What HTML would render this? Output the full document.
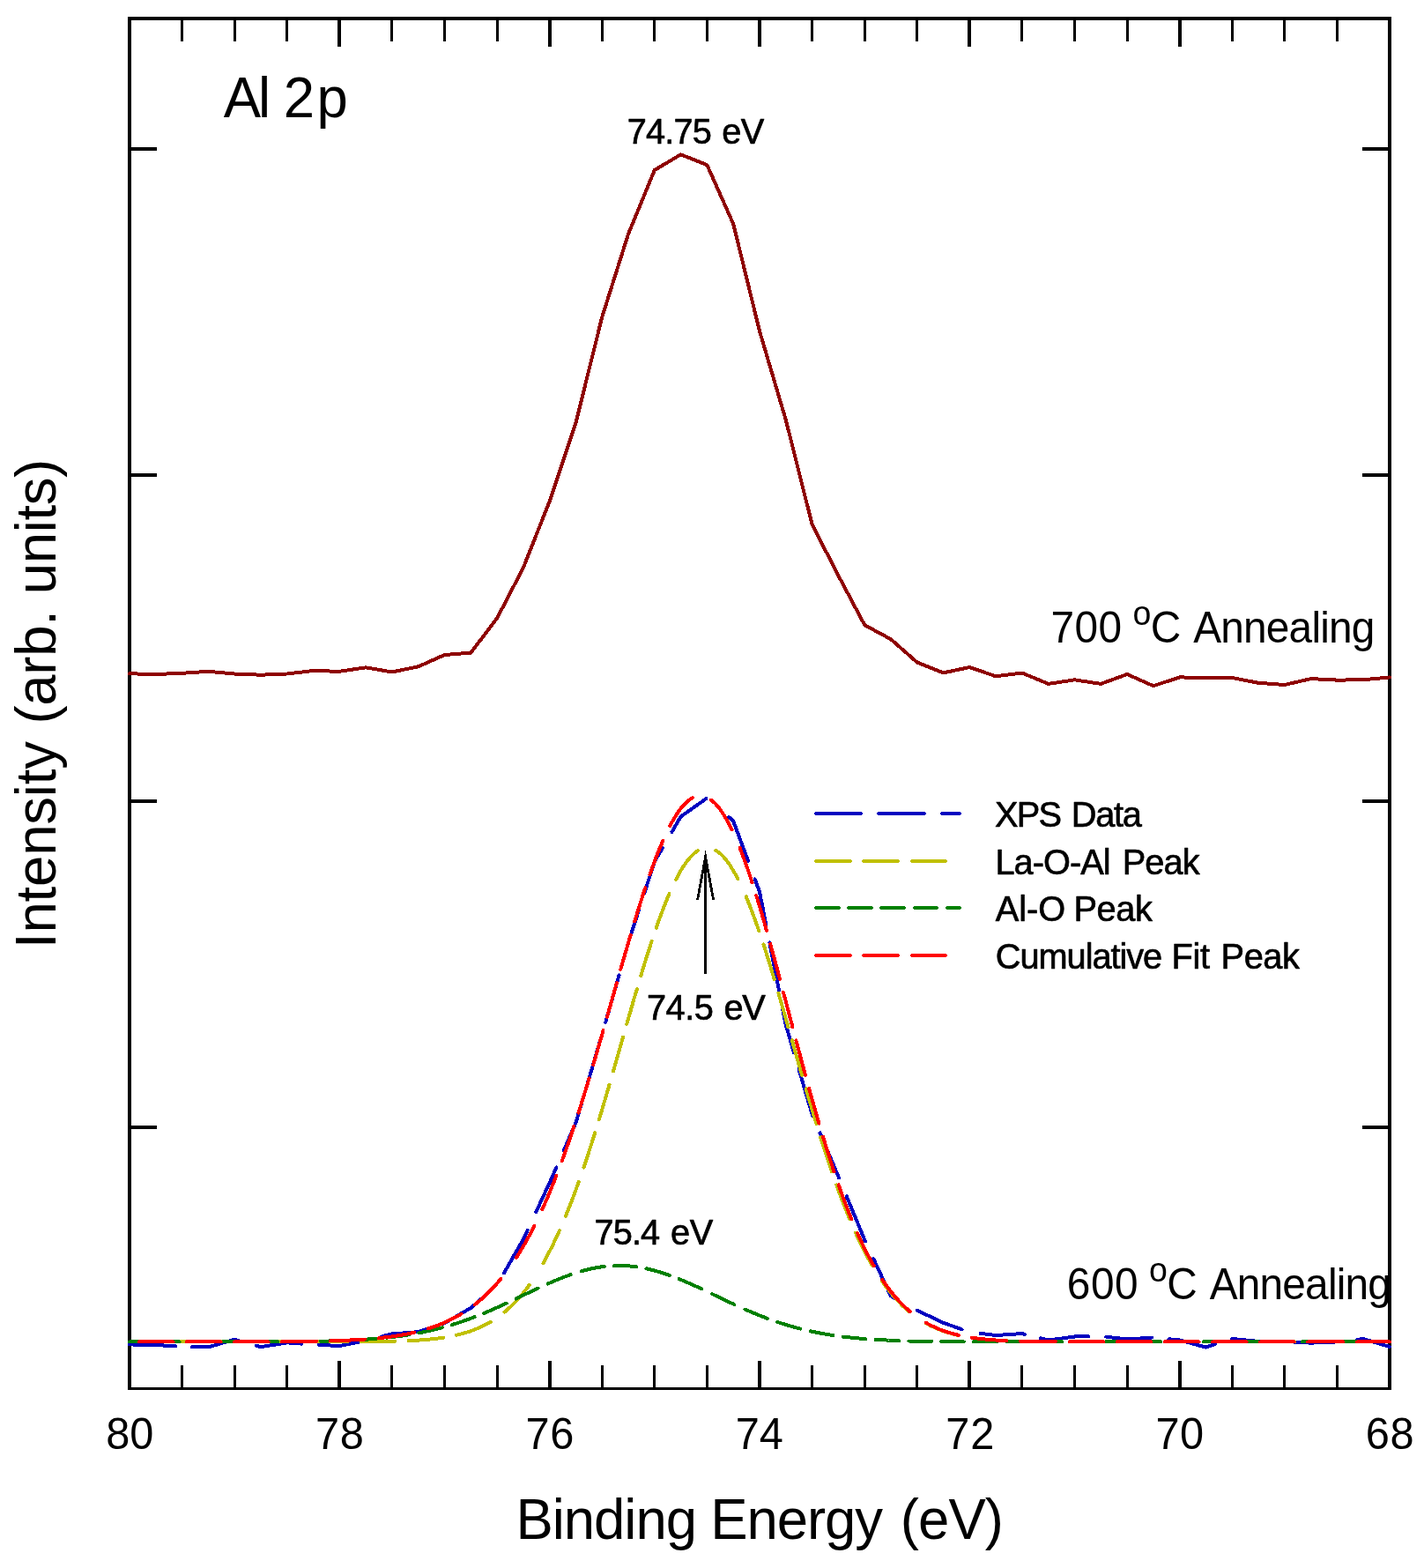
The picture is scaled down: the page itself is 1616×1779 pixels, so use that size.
<!DOCTYPE html>
<html lang="en"><head><meta charset="utf-8"><title>Al 2p XPS spectra</title>
<style>html,body{margin:0;padding:0;background:#fff;overflow:hidden}svg{display:block}text{font-family:"Liberation Sans",sans-serif;fill:#000}</style></head>
<body>
<svg width="1616" height="1779" viewBox="0 0 1616 1779">
<rect x="0" y="0" width="1616" height="1779" fill="#fff"/>
<g id="axes" fill="#000" shape-rendering="crispEdges">
<rect x="145" y="19" width="1434" height="4"/>
<rect x="145" y="1574" width="1434" height="3"/>
<rect x="145" y="19" width="4" height="1558"/>
<rect x="1575" y="19" width="4" height="1558"/>
<rect x="205" y="23" width="3" height="24"/>
<rect x="205" y="1549" width="3" height="25"/>
<rect x="265" y="23" width="3" height="24"/>
<rect x="265" y="1549" width="3" height="25"/>
<rect x="324" y="23" width="3" height="24"/>
<rect x="324" y="1549" width="3" height="25"/>
<rect x="383" y="23" width="4" height="30"/>
<rect x="383" y="1544" width="4" height="30"/>
<rect x="443" y="23" width="3" height="24"/>
<rect x="443" y="1549" width="3" height="25"/>
<rect x="503" y="23" width="3" height="24"/>
<rect x="503" y="1549" width="3" height="25"/>
<rect x="563" y="23" width="3" height="24"/>
<rect x="563" y="1549" width="3" height="25"/>
<rect x="622" y="23" width="4" height="30"/>
<rect x="622" y="1544" width="4" height="30"/>
<rect x="682" y="23" width="3" height="24"/>
<rect x="682" y="1549" width="3" height="25"/>
<rect x="741" y="23" width="3" height="24"/>
<rect x="741" y="1549" width="3" height="25"/>
<rect x="801" y="23" width="3" height="24"/>
<rect x="801" y="1549" width="3" height="25"/>
<rect x="860" y="23" width="4" height="30"/>
<rect x="860" y="1544" width="4" height="30"/>
<rect x="920" y="23" width="3" height="24"/>
<rect x="920" y="1549" width="3" height="25"/>
<rect x="980" y="23" width="3" height="24"/>
<rect x="980" y="1549" width="3" height="25"/>
<rect x="1039" y="23" width="3" height="24"/>
<rect x="1039" y="1549" width="3" height="25"/>
<rect x="1098" y="23" width="4" height="30"/>
<rect x="1098" y="1544" width="4" height="30"/>
<rect x="1158" y="23" width="3" height="24"/>
<rect x="1158" y="1549" width="3" height="25"/>
<rect x="1218" y="23" width="3" height="24"/>
<rect x="1218" y="1549" width="3" height="25"/>
<rect x="1278" y="23" width="3" height="24"/>
<rect x="1278" y="1549" width="3" height="25"/>
<rect x="1337" y="23" width="4" height="30"/>
<rect x="1337" y="1544" width="4" height="30"/>
<rect x="1397" y="23" width="3" height="24"/>
<rect x="1397" y="1549" width="3" height="25"/>
<rect x="1456" y="23" width="3" height="24"/>
<rect x="1456" y="1549" width="3" height="25"/>
<rect x="1516" y="23" width="3" height="24"/>
<rect x="1516" y="1549" width="3" height="25"/>
<rect x="149" y="167" width="29" height="4"/>
<rect x="1546" y="167" width="29" height="4"/>
<rect x="149" y="537" width="29" height="4"/>
<rect x="1546" y="537" width="29" height="4"/>
<rect x="149" y="907" width="29" height="4"/>
<rect x="1546" y="907" width="29" height="4"/>
<rect x="149" y="1277" width="29" height="4"/>
<rect x="1546" y="1277" width="29" height="4"/>
</g>
<g id="curves" fill="none" stroke-linejoin="round" stroke-linecap="round" shape-rendering="crispEdges">
<polyline id="c700" stroke="#8e0000" stroke-width="4" points="147.0,764.3 176.8,765.0 206.6,763.8 236.4,761.8 266.2,764.5 296.0,765.7 325.8,764.5 355.5,761.0 385.3,761.8 415.1,757.3 444.9,762.5 474.7,756.3 504.5,743.0 534.3,740.6 564.1,701.4 593.9,644.0 623.7,568.7 653.5,479.6 683.2,359.9 713.0,265.6 742.8,193.0 772.6,175.3 802.4,187.2 832.2,254.0 862.0,375.7 891.8,476.5 921.6,595.0 951.4,653.1 981.2,709.1 1011.0,725.3 1040.8,751.5 1070.5,763.4 1100.3,757.0 1130.1,767.3 1159.9,763.5 1189.7,775.9 1219.5,771.3 1249.3,775.9 1279.1,765.0 1308.9,778.2 1338.7,768.4 1368.5,769.0 1398.2,769.0 1428.0,774.8 1457.8,777.0 1487.6,770.1 1517.4,771.6 1547.2,771.3 1577.0,768.4"/>
<path id="cblue" stroke="#0000c0" stroke-width="4" d="M147.0 1525.4 L147.5 1525.4 L151.0 1525.5 L154.4 1525.6 L157.9 1525.6 L161.4 1525.7 L164.9 1525.8 L168.4 1525.8 L171.8 1525.9 L175.3 1526.0 L176.8 1526.0 L180.3 1526.2 L183.7 1526.4 L187.2 1526.6 L190.7 1526.8 L194.2 1527.0 L197.6 1527.2 L199.1 1527.3 M218.0 1528.0 L218.5 1528.0 L222.0 1528.1 L225.5 1528.2 L228.9 1528.3 L232.4 1528.4 L235.9 1528.5 L236.4 1528.5 L239.7 1527.5 L243.0 1526.5 L246.3 1525.6 L249.6 1524.6 L252.9 1523.6 L256.2 1522.6 L259.5 1521.7 L262.9 1520.7 L266.2 1519.7 L269.5 1520.7 L271.3 1521.2 M290.7 1526.7 L291.2 1526.8 L294.5 1527.8 L296.0 1528.2 L299.4 1527.6 L302.8 1527.1 L306.2 1526.5 L309.6 1526.0 L313.1 1525.4 L316.5 1524.9 L319.9 1524.3 L323.3 1523.8 L325.8 1523.4 L329.2 1523.6 L332.7 1523.9 L336.2 1524.1 L339.7 1524.4 L342.5 1524.6 M362.0 1525.8 L362.5 1525.9 L366.0 1526.1 L369.4 1526.2 L372.9 1526.4 L376.4 1526.6 L379.9 1526.8 L383.3 1527.0 L385.3 1527.1 L388.8 1526.4 L392.2 1525.7 L395.6 1525.0 L399.0 1524.3 L402.4 1523.6 L405.8 1522.9 L409.3 1522.2 L412.7 1521.5 L414.0 1521.2 M432.9 1516.5 L433.4 1516.3 L436.7 1515.5 L440.1 1514.6 L443.5 1513.8 L444.9 1513.4 L448.4 1513.1 L451.9 1512.9 L455.3 1512.6 L458.8 1512.4 L462.3 1512.1 L465.8 1511.9 L469.2 1511.6 L472.7 1511.3 L474.7 1511.2 L478.0 1510.1 L481.3 1509.0 L484.6 1507.9 L484.9 1507.8 M503.6 1501.5 L504.0 1501.4 L504.5 1501.2 L507.5 1499.5 L510.5 1497.7 L513.6 1496.0 L516.6 1494.2 L519.6 1492.5 L522.6 1490.7 L525.7 1489.0 L528.7 1487.2 L531.7 1485.5 L534.3 1484.0 L536.9 1481.7 L539.6 1479.4 L542.2 1477.1 L544.9 1474.8 L547.5 1472.5 L549.4 1470.9 M572.0 1444.3 L572.2 1443.9 L573.9 1440.8 L575.7 1437.8 L577.4 1434.8 L579.1 1431.8 L580.8 1428.8 L582.5 1425.8 L584.3 1422.7 L586.0 1419.7 L587.7 1416.7 L589.4 1413.7 L591.2 1410.7 L592.9 1407.6 L593.9 1405.9 L595.3 1402.8 L596.8 1399.6 L598.3 1396.5 L598.6 1395.8 M608.4 1374.9 L608.6 1374.4 L610.0 1371.3 L611.5 1368.1 L613.0 1365.0 L614.4 1361.8 L615.9 1358.7 L617.4 1355.5 L618.8 1352.4 L620.3 1349.2 L621.8 1346.1 L623.2 1342.9 L623.7 1342.0 L625.1 1338.8 L626.5 1335.6 L627.9 1332.4 L629.3 1329.2 L630.7 1326.0 L631.3 1324.5 M639.8 1305.1 L639.9 1304.9 L641.3 1301.7 L642.7 1298.5 L644.1 1295.3 L645.5 1292.1 L646.9 1288.8 L648.3 1285.6 L649.7 1282.4 L651.1 1279.2 L652.5 1276.0 L653.5 1273.7 L654.5 1270.4 L655.5 1267.0 L656.5 1263.7 L657.4 1260.3 L658.4 1257.0 L659.4 1253.6 L659.5 1253.4 M665.5 1233.1 L665.6 1233.0 L666.6 1229.7 L667.6 1226.3 L668.6 1223.0 L669.6 1219.6 L670.6 1216.3 L671.6 1212.9 L672.6 1209.6 L673.6 1206.2 L674.6 1202.8 L675.6 1199.5 L676.6 1196.1 L677.5 1192.8 L678.5 1189.4 L679.5 1186.1 L680.5 1182.7 L681.3 1180.1 M687.2 1159.7 L687.4 1159.3 L688.3 1155.9 L689.3 1152.5 L690.3 1149.2 L691.2 1145.8 L692.2 1142.5 L693.1 1139.1 L694.1 1135.8 L695.1 1132.4 L696.0 1129.1 L697.0 1125.7 L697.9 1122.3 L698.9 1119.0 L699.9 1115.6 L700.8 1112.3 L701.8 1108.9 L702.5 1106.5 M708.3 1086.1 L708.4 1085.9 L709.3 1082.6 L710.3 1079.2 L711.3 1075.8 L712.2 1072.5 L713.0 1069.6 L714.1 1066.3 L715.2 1063.0 L716.3 1059.6 L717.3 1056.3 L718.4 1053.0 L719.5 1049.6 L720.6 1046.3 L721.6 1043.0 L722.7 1039.7 L723.8 1036.3 L724.8 1033.3 M731.3 1013.1 L731.3 1013.0 L732.4 1009.7 L733.5 1006.4 L734.5 1003.1 L735.6 999.7 L736.7 996.4 L737.8 993.1 L738.8 989.8 L739.9 986.4 L741.0 983.1 L742.1 979.8 L742.8 977.4 L744.6 974.4 L746.4 971.4 L748.1 968.3 L749.9 965.3 L751.7 962.3 L751.8 962.0 M762.5 943.8 L762.8 943.3 L764.5 940.3 L766.3 937.3 L768.1 934.3 L769.8 931.2 L771.6 928.2 L772.6 926.5 L775.4 924.5 L778.3 922.5 L781.1 920.5 L783.9 918.5 L786.7 916.5 L789.5 914.5 L792.4 912.5 L795.2 910.5 L798.0 908.5 L800.8 906.4 L801.4 906.0 M827.0 927.0 L827.4 927.3 L830.0 929.6 L832.2 931.6 L833.4 934.9 L834.6 938.1 L835.8 941.4 L837.1 944.7 L838.3 947.9 L839.5 951.2 L840.7 954.4 L841.9 957.7 L843.1 961.0 L844.3 964.2 L845.5 967.5 L846.8 970.8 L848.0 974.0 L849.1 977.0 M856.6 997.4 L856.8 997.8 L858.0 1001.1 L859.2 1004.3 L860.4 1007.6 L861.7 1010.9 L862.0 1011.8 L862.7 1015.2 L863.3 1018.7 L864.0 1022.1 L864.7 1025.5 L865.4 1028.9 L866.0 1032.4 L866.7 1035.8 L867.4 1039.2 L868.1 1042.6 L868.7 1046.1 L869.4 1049.5 L869.5 1049.9 M873.4 1069.5 L873.5 1070.0 L874.1 1073.5 L874.8 1076.9 L875.5 1080.3 L876.2 1083.7 L876.8 1087.2 L877.5 1090.6 L878.2 1094.0 L878.9 1097.4 L879.5 1100.9 L880.2 1104.3 L880.9 1107.7 L881.6 1111.1 L882.2 1114.6 L882.9 1118.0 L883.6 1121.4 L883.9 1123.2 M887.8 1142.9 L887.9 1143.4 L888.6 1146.9 L889.3 1150.3 L890.0 1153.7 L890.6 1157.1 L891.3 1160.6 L891.8 1163.0 L892.8 1166.4 L893.8 1169.7 L894.8 1173.1 L895.7 1176.4 L896.7 1179.8 L897.7 1183.1 L898.7 1186.5 L899.7 1189.9 L900.7 1193.2 L900.9 1194.1 M906.5 1212.9 L906.6 1213.4 L907.6 1216.7 L908.6 1220.1 L909.6 1223.4 L910.6 1226.8 L911.6 1230.1 L912.5 1233.5 L913.5 1236.9 L914.5 1240.2 L915.5 1243.6 L916.5 1246.9 L917.5 1250.3 L918.5 1253.6 L919.5 1257.0 L920.5 1260.4 L921.4 1263.7 L921.6 1264.2 L922.3 1265.9 M930.5 1285.3 L930.7 1285.7 L932.0 1288.9 L933.4 1292.1 L934.7 1295.3 L936.1 1298.5 L937.4 1301.7 L938.8 1304.9 L940.2 1308.1 L941.5 1311.4 L942.9 1314.6 L944.2 1317.8 L945.6 1321.0 L946.9 1324.2 L948.3 1327.4 L949.6 1330.6 L951.0 1333.8 L951.4 1334.7 L952.0 1336.3 M960.7 1357.3 L960.9 1357.7 L962.3 1361.0 L963.6 1364.2 L964.9 1367.4 L966.3 1370.7 L967.6 1373.9 L968.9 1377.1 L970.3 1380.3 L971.6 1383.6 L973.0 1386.8 L974.3 1390.0 L975.6 1393.2 L977.0 1396.5 L978.3 1399.7 L979.6 1402.9 L981.0 1406.1 L981.2 1406.6 L982.0 1408.4 M991.3 1428.3 L991.5 1428.8 L993.0 1431.9 L994.5 1435.1 L996.0 1438.3 L997.4 1441.4 L998.9 1444.6 L1000.4 1447.8 L1001.9 1450.9 L1003.4 1454.1 L1004.8 1457.3 L1006.3 1460.4 L1007.8 1463.6 L1009.3 1466.8 L1010.7 1469.9 L1011.0 1470.4 L1014.0 1472.1 L1017.1 1473.7 L1018.8 1474.7 M1040.8 1486.6 L1041.2 1486.8 L1044.3 1488.3 L1047.4 1489.8 L1050.5 1491.3 L1053.6 1492.8 L1056.8 1494.3 L1059.9 1495.8 L1063.0 1497.3 L1066.1 1498.8 L1069.2 1500.3 L1070.5 1500.9 L1073.8 1502.0 L1077.1 1503.2 L1080.3 1504.3 L1083.6 1505.5 L1086.8 1506.6 L1090.1 1507.8 L1091.6 1508.3 M1112.6 1512.9 L1113.0 1512.9 L1116.5 1513.3 L1119.9 1513.8 L1123.3 1514.2 L1126.7 1514.6 L1130.1 1515.0 L1133.6 1514.8 L1137.1 1514.6 L1140.6 1514.3 L1144.0 1514.1 L1147.5 1513.9 L1151.0 1513.7 L1154.5 1513.4 L1157.9 1513.2 L1159.9 1513.1 L1162.7 1513.8 M1181.1 1518.4 L1181.5 1518.5 L1184.9 1519.3 L1188.3 1520.1 L1189.7 1520.5 L1193.1 1520.0 L1196.5 1519.6 L1200.0 1519.1 L1203.4 1518.7 L1206.8 1518.2 L1210.2 1517.7 L1213.6 1517.3 L1217.1 1516.8 L1219.5 1516.5 L1223.0 1516.4 L1226.5 1516.4 L1229.9 1516.3 L1233.4 1516.3 L1235.2 1516.2 M1255.3 1516.7 L1255.7 1516.8 L1259.2 1517.2 L1262.7 1517.6 L1266.2 1518.0 L1269.6 1518.4 L1273.1 1518.8 L1276.6 1519.2 L1279.1 1519.5 L1282.6 1519.3 L1286.0 1519.0 L1289.5 1518.8 L1293.0 1518.6 L1296.5 1518.3 L1299.9 1518.1 L1303.4 1517.9 L1306.9 1517.6 L1307.0 1517.6 M1326.3 1519.3 L1326.8 1519.3 L1330.2 1519.7 L1333.7 1520.0 L1337.2 1520.3 L1338.7 1520.5 L1342.0 1521.4 L1345.4 1522.3 L1348.8 1523.2 L1352.1 1524.2 L1355.5 1525.1 L1358.8 1526.0 L1362.2 1526.9 L1365.6 1527.8 L1368.5 1528.6 L1371.8 1527.5 L1375.1 1526.4 L1378.4 1525.4 L1378.8 1525.2 M1397.8 1519.1 L1398.2 1518.9 L1401.7 1519.3 L1405.2 1519.6 L1408.7 1520.0 L1412.2 1520.3 L1415.6 1520.7 L1419.1 1521.1 L1422.6 1521.4 L1426.1 1521.8 L1428.0 1522.0 L1431.5 1522.0 L1435.0 1522.1 L1438.5 1522.1 L1441.9 1522.1 L1445.4 1522.2 L1448.9 1522.2 L1449.6 1522.2 M1469.0 1522.8 L1469.3 1522.8 L1472.7 1522.9 L1476.2 1523.1 L1479.7 1523.3 L1483.2 1523.4 L1486.6 1523.6 L1487.6 1523.6 L1491.1 1523.5 L1494.6 1523.3 L1498.1 1523.2 L1501.5 1523.0 L1505.0 1522.9 L1508.5 1522.8 L1512.0 1522.6 L1515.4 1522.5 L1517.4 1522.4 L1520.9 1522.0 L1520.9 1522.0 M1540.2 1519.8 L1540.3 1519.8 L1543.7 1519.4 L1547.2 1519.0 L1550.5 1520.0 L1553.8 1521.0 L1557.1 1522.0 L1560.4 1523.0 L1563.8 1524.0 L1567.1 1525.0 L1570.4 1526.0 L1573.7 1527.0 L1577.0 1528.0"/>
<path id="cyel" stroke="#c0c000" stroke-width="4" d="M147.0 1522.4 L147.5 1522.4 L150.5 1522.4 L153.5 1522.4 L156.5 1522.4 L159.5 1522.4 L162.5 1522.4 L165.5 1522.4 L168.5 1522.4 L171.5 1522.4 L174.5 1522.4 L177.0 1522.4 M192.3 1522.4 L192.5 1522.4 L195.5 1522.4 L198.5 1522.4 L201.5 1522.4 L204.5 1522.4 L207.5 1522.4 L210.5 1522.4 L213.5 1522.4 L216.5 1522.4 L219.5 1522.4 L222.5 1522.4 L225.5 1522.4 L228.5 1522.4 L231.3 1522.4 M246.6 1522.4 L246.8 1522.4 L249.8 1522.4 L252.8 1522.4 L255.8 1522.4 L258.8 1522.4 L261.8 1522.4 L264.8 1522.4 L267.8 1522.4 L270.8 1522.4 L273.8 1522.4 L276.8 1522.4 L279.8 1522.4 L282.8 1522.4 L285.6 1522.4 M300.9 1522.4 L301.0 1522.4 L304.0 1522.4 L307.0 1522.4 L310.0 1522.4 L313.0 1522.4 L316.0 1522.4 L319.0 1522.4 L322.0 1522.4 L325.0 1522.4 L328.0 1522.4 L331.0 1522.4 L334.0 1522.4 L337.0 1522.4 L339.9 1522.4 M355.2 1522.4 L355.2 1522.4 L358.2 1522.4 L361.2 1522.4 L364.2 1522.4 L367.2 1522.4 L370.2 1522.4 L373.2 1522.4 L376.2 1522.4 L379.2 1522.4 L382.2 1522.4 L385.2 1522.3 L388.2 1522.3 L391.2 1522.3 L394.2 1522.3 M409.5 1522.2 L409.5 1522.2 L412.5 1522.2 L415.5 1522.2 L418.5 1522.2 L421.5 1522.1 L424.5 1522.1 L427.5 1522.1 L430.5 1522.0 L433.5 1522.0 L436.5 1521.9 L439.5 1521.9 L442.5 1521.8 L445.5 1521.8 L448.5 1521.7 M463.7 1521.1 L463.8 1521.1 L466.8 1521.0 L469.8 1520.8 L472.8 1520.7 L475.8 1520.5 L478.8 1520.3 L481.8 1520.0 L484.8 1519.8 L487.8 1519.5 L490.8 1519.2 L493.8 1518.9 L496.8 1518.5 L499.8 1518.1 L502.8 1517.7 L503.0 1517.6 M518.2 1514.7 L518.2 1514.7 L521.2 1514.0 L524.2 1513.2 L527.2 1512.4 L530.2 1511.5 L533.2 1510.5 L536.2 1509.4 L539.2 1508.3 L542.2 1507.0 L545.0 1505.8 L547.8 1504.5 L550.5 1503.2 L553.2 1501.7 L556.0 1500.1 L556.8 1499.7 M572.6 1488.6 L572.8 1488.4 L575.2 1486.3 L577.5 1484.3 L579.8 1482.2 L582.0 1480.0 L584.2 1477.7 L586.5 1475.3 L588.8 1472.8 L590.8 1470.5 L592.8 1468.2 L594.8 1465.7 L596.8 1463.2 L598.8 1460.5 L600.6 1458.0 M616.3 1433.4 L616.3 1433.4 L617.8 1430.7 L619.3 1428.0 L620.8 1425.2 L622.3 1422.3 L623.8 1419.4 L625.3 1416.5 L626.8 1413.5 L628.2 1410.7 L629.5 1407.9 L630.8 1405.1 L632.2 1402.2 L633.5 1399.3 L634.8 1396.3 L634.9 1396.2 M641.9 1379.7 L642.0 1379.6 L643.2 1376.7 L644.3 1373.8 L645.5 1370.9 L646.7 1367.9 L647.8 1364.9 L649.0 1361.9 L650.2 1358.8 L651.3 1355.7 L652.5 1352.6 L653.7 1349.4 L654.8 1346.2 L656.0 1343.0 L656.7 1340.9 M662.4 1324.6 L662.5 1324.3 L663.5 1321.3 L664.5 1318.4 L665.5 1315.4 L666.5 1312.3 L667.5 1309.3 L668.5 1306.2 L669.5 1303.1 L670.5 1300.0 L671.5 1296.9 L672.5 1293.8 L673.5 1290.6 L674.5 1287.4 L675.2 1285.3 M679.8 1270.1 L679.9 1270.0 L680.8 1267.1 L681.6 1264.2 L682.5 1261.3 L683.4 1258.4 L684.2 1255.5 L685.1 1252.5 L686.0 1249.6 L686.9 1246.6 L687.8 1243.6 L688.6 1240.7 L689.5 1237.7 L690.4 1234.7 L691.2 1231.7 L691.5 1230.8 M695.9 1215.5 L696.0 1215.3 L696.9 1212.2 L697.8 1209.2 L698.6 1206.1 L699.5 1203.1 L700.4 1200.0 L701.2 1197.0 L702.1 1193.9 L703.0 1190.8 L703.9 1187.8 L704.8 1184.7 L705.6 1181.7 L706.5 1178.6 L707.0 1176.8 M711.3 1161.8 L711.4 1161.5 L712.2 1158.5 L713.1 1155.4 L714.0 1152.4 L714.9 1149.3 L715.8 1146.3 L716.6 1143.3 L717.5 1140.3 L718.4 1137.2 L719.2 1134.2 L720.1 1131.2 L721.0 1128.3 L721.9 1125.3 L722.8 1122.3 L722.8 1122.2 M727.3 1107.0 L727.4 1106.8 L728.2 1103.9 L729.1 1101.0 L730.1 1097.8 L731.1 1094.5 L732.1 1091.3 L733.1 1088.1 L734.1 1084.9 L735.1 1081.7 L736.1 1078.6 L737.1 1075.5 L738.1 1072.4 L739.1 1069.3 L739.6 1067.9 M744.7 1052.9 L744.8 1052.6 L745.8 1049.8 L746.8 1046.7 L748.0 1043.5 L749.2 1040.3 L750.3 1037.1 L751.5 1034.0 L752.7 1030.9 L753.8 1027.9 L755.0 1025.0 L756.2 1022.1 L757.3 1019.2 L758.5 1016.5 L759.5 1014.1 M767.1 997.9 L767.2 997.7 L768.7 994.8 L770.2 992.0 L771.7 989.3 L773.2 986.6 L775.0 983.8 L776.8 981.2 L778.5 978.7 L780.5 976.0 L782.5 973.6 L784.8 971.1 L787.0 968.9 L789.5 966.8 L792.0 965.1 M812.3 964.8 L812.5 964.9 L815.0 966.6 L817.5 968.7 L819.8 970.8 L822.0 973.2 L824.0 975.6 L826.0 978.2 L827.8 980.7 L829.5 983.4 L831.2 986.2 L833.0 989.1 L834.5 991.8 L836.0 994.5 L837.4 997.3 M846.6 1017.2 L846.7 1017.3 L847.8 1020.1 L849.0 1023.0 L850.2 1025.9 L851.3 1028.9 L852.5 1031.9 L853.7 1035.0 L854.8 1038.1 L856.0 1041.3 L857.2 1044.5 L858.3 1047.8 L859.4 1050.7 L860.4 1053.6 L861.2 1056.1 M866.4 1071.5 L866.4 1071.5 L867.4 1074.5 L868.4 1077.6 L869.4 1080.8 L870.4 1083.9 L871.4 1087.1 L872.4 1090.3 L873.4 1093.5 L874.4 1096.8 L875.4 1100.0 L876.2 1102.9 L877.1 1105.8 L878.0 1108.7 L878.7 1111.1 M883.3 1126.6 L883.4 1126.8 L884.2 1129.8 L885.1 1132.8 L886.0 1135.8 L886.9 1138.8 L887.8 1141.8 L888.6 1144.8 L889.5 1147.9 L890.4 1150.9 L891.2 1153.9 L892.1 1157.0 L893.0 1160.0 L893.9 1163.1 L894.5 1165.3 M898.8 1180.3 L898.9 1180.6 L899.8 1183.7 L900.6 1186.7 L901.5 1189.8 L902.4 1192.9 L903.2 1195.9 L904.1 1199.0 L905.0 1202.0 L905.9 1205.1 L906.8 1208.2 L907.6 1211.2 L908.5 1214.2 L909.4 1217.3 L910.1 1219.9 M914.6 1235.2 L914.6 1235.4 L915.5 1238.4 L916.4 1241.4 L917.2 1244.3 L918.1 1247.3 L919.0 1250.3 L919.9 1253.2 L920.8 1256.1 L921.6 1259.1 L922.5 1262.0 L923.4 1264.9 L924.2 1267.8 L925.1 1270.6 L926.1 1273.9 L926.5 1275.0 M931.2 1290.4 L931.2 1290.4 L932.2 1293.6 L933.2 1296.8 L934.2 1299.9 L935.2 1303.0 L936.2 1306.1 L937.2 1309.1 L938.2 1312.2 L939.2 1315.2 L940.2 1318.2 L941.2 1321.2 L942.2 1324.2 L943.2 1327.1 L944.1 1329.5 M949.3 1344.5 L949.5 1344.9 L950.7 1348.1 L951.8 1351.3 L953.0 1354.5 L954.2 1357.6 L955.3 1360.7 L956.5 1363.7 L957.7 1366.7 L958.8 1369.7 L960.0 1372.7 L961.2 1375.6 L962.3 1378.4 L963.5 1381.3 L964.3 1383.2 M971.0 1398.6 L971.0 1398.7 L972.3 1401.6 L973.7 1404.5 L975.0 1407.3 L976.3 1410.1 L977.7 1412.8 L979.0 1415.5 L980.5 1418.5 L982.0 1421.4 L983.5 1424.3 L985.0 1427.1 L986.5 1429.9 L988.0 1432.5 L989.5 1435.2 L989.8 1435.7 M1000.6 1452.9 L1000.8 1453.1 L1002.5 1455.6 L1004.2 1458.1 L1006.2 1460.8 L1008.2 1463.4 L1010.2 1466.0 L1012.2 1468.4 L1014.2 1470.8 L1016.2 1473.1 L1018.5 1475.5 L1020.8 1477.9 L1023.0 1480.2 L1025.2 1482.4 L1027.5 1484.5 L1029.8 1486.5 L1032.0 1488.3 M1051.0 1501.4 L1051.0 1501.4 L1053.8 1502.9 L1056.5 1504.3 L1059.2 1505.6 L1062.0 1506.8 L1065.0 1508.0 L1068.0 1509.2 L1071.0 1510.3 L1074.0 1511.3 L1077.0 1512.2 L1080.0 1513.1 L1083.0 1513.9 L1086.0 1514.6 L1088.0 1515.0 M1103.2 1517.8 L1103.2 1517.8 L1106.2 1518.3 L1109.2 1518.6 L1112.2 1519.0 L1115.2 1519.3 L1118.2 1519.6 L1121.2 1519.9 L1124.2 1520.1 L1127.2 1520.3 L1130.2 1520.5 L1133.2 1520.7 L1136.2 1520.9 L1139.2 1521.1 L1142.2 1521.2 L1142.6 1521.2 M1158.0 1521.7 L1158.0 1521.7 L1161.0 1521.8 L1164.0 1521.9 L1167.0 1521.9 L1170.0 1522.0 L1173.0 1522.0 L1176.0 1522.1 L1179.0 1522.1 L1182.0 1522.1 L1185.0 1522.2 L1188.0 1522.2 L1191.0 1522.2 L1194.0 1522.2 L1197.0 1522.3 L1198.1 1522.3 M1213.7 1522.3 L1213.8 1522.3 L1216.8 1522.3 L1219.8 1522.3 L1222.8 1522.4 L1225.8 1522.4 L1228.8 1522.4 L1231.8 1522.4 L1234.8 1522.4 L1237.8 1522.4 L1240.8 1522.4 L1243.8 1522.4 L1246.8 1522.4 L1249.8 1522.4 L1252.5 1522.4 M1267.7 1522.4 L1267.8 1522.4 L1270.8 1522.4 L1273.8 1522.4 L1276.8 1522.4 L1279.8 1522.4 L1282.8 1522.4 L1285.8 1522.4 L1288.8 1522.4 L1291.8 1522.4 L1294.8 1522.4 L1297.8 1522.4 L1300.8 1522.4 L1303.8 1522.4 L1306.7 1522.4 M1322.0 1522.4 L1322.0 1522.4 L1325.0 1522.4 L1328.0 1522.4 L1331.0 1522.4 L1334.0 1522.4 L1337.0 1522.4 L1340.0 1522.4 L1343.0 1522.4 L1346.0 1522.4 L1349.0 1522.4 L1352.0 1522.4 L1355.0 1522.4 L1358.0 1522.4 L1360.8 1522.4 M1376.0 1522.4 L1376.0 1522.4 L1379.0 1522.4 L1382.0 1522.4 L1385.0 1522.4 L1388.0 1522.4 L1391.0 1522.4 L1394.0 1522.4 L1397.0 1522.4 L1400.0 1522.4 L1403.0 1522.4 L1406.0 1522.4 L1409.0 1522.4 L1412.0 1522.4 L1415.0 1522.4 M1430.2 1522.4 L1430.5 1522.4 L1433.5 1522.4 L1436.5 1522.4 L1439.5 1522.4 L1442.5 1522.4 L1445.5 1522.4 L1448.5 1522.4 L1451.5 1522.4 L1454.5 1522.4 L1457.5 1522.4 L1460.5 1522.4 L1463.5 1522.4 L1466.5 1522.4 L1469.2 1522.4 M1484.5 1522.4 L1485.0 1522.4 L1488.0 1522.4 L1491.0 1522.4 L1494.0 1522.4 L1497.0 1522.4 L1500.0 1522.4 L1503.0 1522.4 L1506.0 1522.4 L1509.0 1522.4 L1512.0 1522.4 L1515.0 1522.4 L1518.0 1522.4 L1521.0 1522.4 L1524.0 1522.4 L1524.5 1522.4 M1540.0 1522.4 L1540.5 1522.4 L1543.5 1522.4 L1546.5 1522.4 L1549.5 1522.4 L1552.5 1522.4 L1555.5 1522.4 L1558.5 1522.4 L1561.5 1522.4 L1564.5 1522.4 L1567.5 1522.4 L1570.5 1522.4 L1573.5 1522.4 L1576.5 1522.4 L1577.0 1522.4"/>
<path id="cgrn" stroke="#008000" stroke-width="4" d="M147.0 1522.4 L147.2 1522.4 L150.2 1522.4 L153.2 1522.4 L156.2 1522.4 L159.2 1522.4 L162.2 1522.4 L165.2 1522.4 L166.5 1522.4 M177.7 1522.4 L177.8 1522.4 L180.8 1522.4 L183.8 1522.4 L186.8 1522.4 L189.8 1522.4 L192.8 1522.4 L195.8 1522.4 L198.8 1522.4 L201.8 1522.4 L203.7 1522.4 M215.0 1522.4 L215.0 1522.4 L218.0 1522.4 L221.0 1522.4 L224.0 1522.4 L227.0 1522.4 L230.0 1522.4 L233.0 1522.4 L236.0 1522.4 L239.0 1522.4 L241.0 1522.4 M252.2 1522.4 L252.2 1522.4 L255.2 1522.4 L258.2 1522.4 L261.2 1522.4 L264.2 1522.4 L267.2 1522.4 L270.2 1522.4 L273.2 1522.4 L276.2 1522.4 L278.2 1522.4 M289.5 1522.3 L289.5 1522.3 L292.5 1522.3 L295.5 1522.3 L298.5 1522.3 L301.5 1522.3 L304.5 1522.3 L307.5 1522.3 L310.5 1522.3 L313.5 1522.2 L315.5 1522.2 M326.7 1522.2 L326.8 1522.2 L329.8 1522.1 L332.8 1522.1 L335.8 1522.1 L338.8 1522.1 L341.8 1522.0 L344.8 1522.0 L347.8 1521.9 L350.8 1521.9 L352.7 1521.9 M364.0 1521.7 L364.0 1521.7 L367.0 1521.6 L370.0 1521.5 L373.0 1521.5 L376.0 1521.4 L379.0 1521.3 L382.0 1521.2 L385.0 1521.1 L388.0 1521.0 L390.0 1520.9 M401.2 1520.4 L401.2 1520.4 L404.2 1520.3 L407.2 1520.1 L410.2 1519.9 L413.2 1519.8 L416.2 1519.6 L419.2 1519.4 L422.2 1519.1 L425.2 1518.9 L427.2 1518.7 M438.4 1517.7 L438.5 1517.7 L441.5 1517.3 L444.5 1517.0 L447.5 1516.7 L450.5 1516.3 L453.5 1515.9 L456.5 1515.5 L459.5 1515.0 L462.5 1514.6 L464.1 1514.3 M475.2 1512.4 L475.2 1512.4 L478.2 1511.8 L481.2 1511.2 L484.2 1510.5 L487.2 1509.9 L490.2 1509.2 L493.2 1508.5 L496.2 1507.7 L499.2 1507.0 L501.8 1506.3 M512.9 1503.1 L513.0 1503.1 L516.0 1502.1 L519.0 1501.2 L522.0 1500.2 L525.0 1499.1 L528.0 1498.1 L531.0 1497.0 L534.0 1495.9 L537.0 1494.8 L538.6 1494.2 M549.3 1489.9 L549.5 1489.8 L552.5 1488.6 L555.5 1487.3 L558.5 1486.0 L561.2 1484.8 L564.0 1483.5 L566.8 1482.3 L569.5 1481.0 L572.2 1479.8 L574.8 1478.6 M585.6 1473.5 L585.8 1473.4 L588.5 1472.1 L591.2 1470.8 L594.0 1469.5 L596.8 1468.1 L599.5 1466.8 L602.2 1465.5 L605.0 1464.2 L607.8 1462.9 L610.5 1461.6 L610.7 1461.6 M621.8 1456.5 L622.0 1456.4 L624.8 1455.2 L627.8 1453.9 L630.8 1452.6 L633.8 1451.4 L636.8 1450.2 L639.8 1449.0 L642.8 1447.9 L645.8 1446.8 L647.6 1446.1 M659.9 1442.2 L660.0 1442.2 L663.0 1441.3 L666.0 1440.6 L669.0 1439.9 L672.0 1439.2 L675.0 1438.6 L678.0 1438.0 L681.0 1437.6 L684.0 1437.1 L685.7 1436.9 M697.0 1436.0 L697.0 1436.0 L700.0 1435.9 L703.0 1435.9 L706.0 1435.9 L709.0 1436.1 L712.0 1436.2 L715.0 1436.5 L718.0 1436.8 L721.0 1437.1 L722.5 1437.3 M733.5 1439.3 L733.5 1439.3 L736.5 1440.0 L739.5 1440.7 L742.5 1441.5 L745.5 1442.3 L748.5 1443.2 L751.5 1444.1 L754.5 1445.1 L757.5 1446.2 L759.8 1447.0 M770.6 1451.1 L770.8 1451.2 L773.8 1452.4 L776.8 1453.7 L779.8 1455.0 L782.5 1456.2 L785.2 1457.4 L788.0 1458.6 L790.8 1459.9 L793.5 1461.2 L796.0 1462.3 M808.1 1468.1 L808.2 1468.1 L811.0 1469.5 L813.8 1470.8 L816.5 1472.1 L819.2 1473.4 L822.0 1474.7 L824.8 1476.0 L827.5 1477.3 L830.2 1478.6 L833.0 1479.9 L833.2 1480.0 M845.3 1485.5 L845.5 1485.5 L848.2 1486.7 L851.2 1488.0 L854.2 1489.3 L857.2 1490.5 L860.2 1491.8 L863.2 1493.0 L866.2 1494.1 L869.2 1495.3 L871.1 1496.0 M882.1 1499.9 L882.2 1499.9 L885.2 1500.9 L888.2 1501.9 L891.2 1502.8 L894.2 1503.7 L897.2 1504.6 L900.2 1505.5 L903.2 1506.3 L906.2 1507.1 L908.4 1507.6 M919.7 1510.3 L919.8 1510.3 L922.8 1511.0 L925.8 1511.6 L928.8 1512.2 L931.8 1512.7 L934.8 1513.3 L937.8 1513.8 L940.8 1514.3 L943.8 1514.8 L945.5 1515.0 M956.7 1516.6 L956.8 1516.6 L959.8 1516.9 L962.8 1517.3 L965.8 1517.6 L968.8 1517.9 L971.8 1518.2 L974.8 1518.5 L977.8 1518.7 L980.8 1519.0 L982.3 1519.1 M993.5 1519.9 L993.5 1519.9 L996.5 1520.0 L999.5 1520.2 L1002.5 1520.4 L1005.5 1520.5 L1008.5 1520.7 L1011.5 1520.8 L1014.5 1520.9 L1017.5 1521.0 L1020.1 1521.1 M1031.5 1521.5 L1031.5 1521.5 L1034.5 1521.5 L1037.5 1521.6 L1040.5 1521.7 L1043.5 1521.7 L1046.5 1521.8 L1049.5 1521.8 L1052.5 1521.9 L1055.5 1521.9 L1057.1 1521.9 M1068.2 1522.1 L1068.2 1522.1 L1071.2 1522.1 L1074.2 1522.1 L1077.2 1522.2 L1080.2 1522.2 L1083.2 1522.2 L1086.2 1522.2 L1089.2 1522.2 L1092.2 1522.2 L1093.8 1522.3 M1105.0 1522.3 L1105.0 1522.3 L1108.0 1522.3 L1111.0 1522.3 L1114.0 1522.3 L1117.0 1522.3 L1120.0 1522.3 L1123.0 1522.3 L1126.0 1522.4 L1129.0 1522.4 L1131.0 1522.4 M1142.2 1522.4 L1142.2 1522.4 L1145.2 1522.4 L1148.2 1522.4 L1151.2 1522.4 L1154.2 1522.4 L1157.2 1522.4 L1160.2 1522.4 L1163.2 1522.4 L1166.2 1522.4 L1168.2 1522.4 M1179.5 1522.4 L1179.5 1522.4 L1182.5 1522.4 L1185.5 1522.4 L1188.5 1522.4 L1191.5 1522.4 L1194.5 1522.4 L1197.5 1522.4 L1200.5 1522.4 L1203.5 1522.4 L1205.5 1522.4 M1216.7 1522.4 L1216.8 1522.4 L1219.8 1522.4 L1222.8 1522.4 L1225.8 1522.4 L1228.8 1522.4 L1231.8 1522.4 L1234.8 1522.4 L1237.8 1522.4 L1240.8 1522.4 L1242.7 1522.4 M1254.0 1522.4 L1254.0 1522.4 L1257.0 1522.4 L1260.0 1522.4 L1263.0 1522.4 L1266.0 1522.4 L1269.0 1522.4 L1272.0 1522.4 L1275.0 1522.4 L1278.0 1522.4 L1280.0 1522.4 M1291.2 1522.4 L1291.2 1522.4 L1294.2 1522.4 L1297.2 1522.4 L1300.2 1522.4 L1303.2 1522.4 L1306.2 1522.4 L1309.2 1522.4 L1312.2 1522.4 L1315.2 1522.4 L1317.2 1522.4 M1328.5 1522.4 L1328.5 1522.4 L1331.5 1522.4 L1334.5 1522.4 L1337.5 1522.4 L1340.5 1522.4 L1343.5 1522.4 L1346.5 1522.4 L1349.5 1522.4 L1352.5 1522.4 L1354.5 1522.4 M1365.7 1522.4 L1365.8 1522.4 L1368.8 1522.4 L1371.8 1522.4 L1374.8 1522.4 L1377.8 1522.4 L1380.8 1522.4 L1383.8 1522.4 L1386.8 1522.4 L1390.0 1522.4 L1391.7 1522.4 M1403.0 1522.4 L1403.0 1522.4 L1406.0 1522.4 L1409.0 1522.4 L1412.0 1522.4 L1415.0 1522.4 L1418.0 1522.4 L1421.0 1522.4 L1424.0 1522.4 L1427.0 1522.4 L1429.0 1522.4 M1440.2 1522.4 L1440.5 1522.4 L1443.5 1522.4 L1446.5 1522.4 L1449.5 1522.4 L1452.5 1522.4 L1455.5 1522.4 L1458.5 1522.4 L1461.5 1522.4 L1464.5 1522.4 L1466.2 1522.4 M1477.5 1522.4 L1477.5 1522.4 L1480.5 1522.4 L1483.5 1522.4 L1486.5 1522.4 L1489.5 1522.4 L1492.5 1522.4 L1495.5 1522.4 L1498.5 1522.4 L1501.5 1522.4 L1503.5 1522.4 M1514.7 1522.4 L1515.0 1522.4 L1518.0 1522.4 L1521.0 1522.4 L1524.0 1522.4 L1527.0 1522.4 L1530.0 1522.4 L1533.0 1522.4 L1536.0 1522.4 L1539.0 1522.4 L1540.7 1522.4 M1552.0 1522.4 L1552.0 1522.4 L1555.0 1522.4 L1558.0 1522.4 L1561.0 1522.4 L1564.0 1522.4 L1567.0 1522.4 L1570.0 1522.4 L1573.0 1522.4 L1576.0 1522.4 L1577.0 1522.4"/>
<path id="cred" stroke="#ff0000" stroke-width="4" d="M157.7 1522.4 L157.8 1522.4 L160.8 1522.4 L163.8 1522.4 L166.8 1522.4 L169.8 1522.4 L172.8 1522.4 L175.8 1522.4 L178.8 1522.4 L181.8 1522.4 L184.8 1522.4 L187.8 1522.4 L190.8 1522.4 L193.8 1522.4 L196.6 1522.4 M211.8 1522.4 L212.0 1522.4 L215.0 1522.4 L218.0 1522.4 L221.0 1522.4 L224.0 1522.4 L227.0 1522.4 L230.0 1522.4 L233.0 1522.4 L236.0 1522.4 L239.0 1522.4 L242.0 1522.4 L245.0 1522.4 L248.0 1522.4 L250.7 1522.4 M265.9 1522.4 L266.0 1522.4 L269.0 1522.4 L272.0 1522.4 L275.0 1522.4 L278.0 1522.4 L281.0 1522.3 L284.0 1522.3 L287.0 1522.3 L290.0 1522.3 L293.0 1522.3 L296.0 1522.3 L299.0 1522.3 L302.0 1522.3 L304.7 1522.3 M320.0 1522.2 L320.0 1522.2 L323.0 1522.2 L326.0 1522.2 L329.0 1522.1 L332.0 1522.1 L335.0 1522.1 L338.0 1522.1 L341.0 1522.0 L344.0 1522.0 L347.0 1521.9 L350.0 1521.9 L353.0 1521.9 L356.0 1521.8 L359.0 1521.8 L359.4 1521.7 M374.8 1521.4 L375.0 1521.4 L378.0 1521.3 L381.0 1521.2 L384.0 1521.1 L387.0 1521.0 L390.0 1520.9 L393.0 1520.7 L396.0 1520.6 L399.0 1520.4 L402.0 1520.3 L405.0 1520.1 L408.0 1519.9 L411.0 1519.7 L414.0 1519.5 L414.1 1519.5 M429.5 1518.2 L429.5 1518.2 L432.5 1517.9 L435.5 1517.5 L438.5 1517.2 L441.5 1516.8 L444.5 1516.4 L447.5 1516.0 L450.5 1515.5 L453.5 1515.0 L456.5 1514.5 L459.5 1513.9 L462.5 1513.4 L465.5 1512.7 L468.5 1512.1 L470.3 1511.7 M485.7 1507.5 L485.8 1507.5 L488.8 1506.5 L491.8 1505.5 L494.8 1504.4 L497.8 1503.3 L500.8 1502.1 L503.8 1500.8 L506.5 1499.6 L509.2 1498.3 L512.0 1497.0 L514.8 1495.6 L517.5 1494.1 L520.2 1492.6 L523.0 1491.0 L523.6 1490.6 M538.8 1480.1 L539.0 1480.0 L541.5 1478.0 L544.0 1475.9 L546.5 1473.8 L548.8 1471.8 L551.0 1469.7 L553.2 1467.5 L555.5 1465.3 L557.8 1463.0 L560.0 1460.6 L562.2 1458.2 L564.2 1455.9 L566.2 1453.6 L568.2 1451.2 L568.4 1451.0 M585.8 1427.0 L586.0 1426.7 L587.8 1424.0 L589.5 1421.2 L591.2 1418.3 L593.0 1415.4 L594.8 1412.4 L596.3 1409.6 L597.8 1407.0 L599.3 1404.3 L600.8 1401.5 L602.3 1398.7 L603.8 1395.8 L605.3 1392.9 L606.4 1390.8 M615.3 1372.1 L615.3 1372.1 L616.7 1369.2 L618.0 1366.2 L619.3 1363.1 L620.7 1360.1 L622.0 1357.0 L623.3 1353.8 L624.5 1351.0 L625.7 1348.2 L626.8 1345.3 L628.0 1342.4 L629.2 1339.5 L630.3 1336.6 L631.4 1333.8 M637.7 1317.2 L637.8 1316.8 L639.0 1313.6 L640.2 1310.4 L641.3 1307.2 L642.5 1303.9 L643.5 1301.1 L644.5 1298.2 L645.5 1295.4 L646.5 1292.5 L647.5 1289.5 L648.5 1286.6 L649.5 1283.6 L650.5 1280.7 L651.4 1278.0 M656.4 1262.8 L656.4 1262.7 L657.4 1259.6 L658.4 1256.5 L659.4 1253.3 L660.4 1250.2 L661.4 1247.0 L662.4 1243.8 L663.4 1240.6 L664.4 1237.3 L665.4 1234.1 L666.4 1230.8 L667.2 1227.9 L668.1 1225.0 L668.6 1223.3 M673.2 1208.1 L673.2 1207.9 L674.1 1205.0 L675.0 1202.0 L675.9 1199.0 L676.8 1196.0 L677.6 1193.0 L678.5 1190.0 L679.4 1187.0 L680.2 1184.0 L681.1 1181.0 L682.0 1178.0 L682.9 1174.9 L683.8 1171.9 L684.5 1169.1 M688.9 1154.0 L688.9 1154.0 L689.8 1150.9 L690.6 1147.8 L691.5 1144.8 L692.4 1141.7 L693.2 1138.6 L694.1 1135.5 L695.0 1132.5 L695.9 1129.4 L696.8 1126.3 L697.6 1123.2 L698.5 1120.1 L699.4 1117.1 L700.0 1114.9 M704.3 1099.8 L704.4 1099.5 L705.2 1096.5 L706.1 1093.4 L707.0 1090.4 L707.9 1087.4 L708.8 1084.3 L709.6 1081.3 L710.5 1078.3 L711.4 1075.3 L712.2 1072.3 L713.1 1069.3 L714.0 1066.4 L714.9 1063.4 L715.7 1060.7 M720.2 1045.6 L720.2 1045.4 L721.1 1042.6 L722.1 1039.3 L723.1 1036.1 L724.1 1032.8 L725.1 1029.6 L726.1 1026.5 L727.1 1023.3 L728.1 1020.2 L729.1 1017.1 L730.1 1014.0 L731.1 1010.9 L732.1 1007.9 L732.4 1007.2 M737.4 992.4 L737.5 992.1 L738.5 989.3 L739.7 986.0 L740.8 982.8 L742.0 979.6 L743.2 976.5 L744.3 973.4 L745.5 970.4 L746.7 967.4 L747.8 964.5 L749.0 961.7 L750.2 958.9 L751.5 955.7 L752.4 953.6 M760.2 937.1 L760.3 937.0 L761.8 934.1 L763.3 931.4 L765.0 928.6 L766.8 925.7 L768.5 923.0 L770.2 920.4 L772.2 917.7 L774.2 915.2 L776.2 913.0 L778.5 910.7 L780.8 908.7 L783.2 906.8 L786.0 905.2 M806.9 907.6 L807.0 907.7 L809.5 909.7 L811.8 911.9 L814.0 914.4 L816.0 916.8 L818.0 919.5 L819.8 922.0 L821.5 924.7 L823.2 927.6 L824.8 930.3 L826.3 933.1 L827.8 935.9 L829.3 938.9 L830.6 941.4 M839.6 962.1 L839.7 962.3 L840.8 965.3 L842.0 968.3 L843.2 971.4 L844.3 974.5 L845.5 977.7 L846.7 981.0 L847.8 984.0 L848.8 986.9 L849.8 989.8 L850.8 992.8 L851.8 995.8 L852.8 998.8 L853.5 1001.2 M858.3 1016.4 L858.4 1016.5 L859.4 1019.7 L860.4 1023.0 L861.2 1025.9 L862.1 1028.8 L863.0 1031.7 L863.9 1034.7 L864.8 1037.7 L865.6 1040.7 L866.5 1043.7 L867.4 1046.7 L868.2 1049.7 L869.1 1052.8 L870.0 1055.9 L870.0 1055.9 M874.3 1071.2 L874.4 1071.5 L875.2 1074.7 L876.1 1077.9 L877.0 1081.1 L877.9 1084.3 L878.8 1087.5 L879.6 1090.8 L880.5 1094.0 L881.4 1097.2 L882.2 1100.5 L883.1 1103.8 L884.0 1107.0 L884.9 1110.3 L885.0 1110.6 M889.0 1125.9 L889.1 1126.3 L890.0 1129.6 L890.9 1132.9 L891.8 1136.3 L892.6 1139.6 L893.5 1142.9 L894.4 1146.2 L895.2 1149.5 L896.1 1152.9 L897.0 1156.2 L897.9 1159.5 L898.8 1162.8 L899.4 1165.3 M903.4 1180.5 L903.5 1180.8 L904.4 1184.0 L905.2 1187.3 L906.1 1190.6 L907.0 1193.9 L907.9 1197.2 L908.8 1200.4 L909.6 1203.7 L910.5 1206.9 L911.4 1210.2 L912.2 1213.4 L913.1 1216.6 L914.0 1219.8 M918.2 1235.0 L918.2 1235.3 L919.1 1238.4 L920.0 1241.6 L920.9 1244.7 L921.8 1247.8 L922.6 1250.9 L923.5 1254.0 L924.4 1257.1 L925.2 1260.1 L926.1 1263.2 L927.0 1266.2 L927.9 1269.2 L928.8 1272.2 L929.4 1274.5 M934.0 1289.7 L934.0 1289.8 L934.9 1292.7 L935.9 1296.0 L936.9 1299.2 L937.9 1302.5 L938.9 1305.7 L939.9 1308.8 L940.9 1312.0 L941.9 1315.1 L942.9 1318.2 L943.9 1321.3 L944.9 1324.3 L945.9 1327.4 L946.5 1329.2 M951.7 1344.3 L951.8 1344.6 L952.8 1347.7 L954.0 1351.0 L955.2 1354.2 L956.3 1357.4 L957.5 1360.6 L958.7 1363.7 L959.8 1366.8 L961.0 1369.8 L962.2 1372.8 L963.3 1375.8 L964.5 1378.7 L965.7 1381.6 L966.3 1383.2 M973.0 1398.9 L973.0 1398.9 L974.3 1401.9 L975.7 1404.9 L977.0 1407.7 L978.3 1410.6 L979.7 1413.4 L981.0 1416.1 L982.5 1419.1 L984.0 1422.1 L985.5 1425.0 L987.0 1427.8 L988.5 1430.6 L990.0 1433.3 L991.5 1435.9 L991.6 1436.0 M1001.4 1451.9 L1001.5 1452.1 L1003.2 1454.7 L1005.0 1457.2 L1007.0 1460.0 L1009.0 1462.7 L1011.0 1465.3 L1013.0 1467.8 L1015.0 1470.2 L1017.0 1472.5 L1019.0 1474.7 L1021.2 1477.2 L1023.5 1479.5 L1025.8 1481.7 L1028.0 1483.9 L1030.2 1485.9 L1032.7 1488.0 M1051.0 1500.8 L1051.0 1500.9 L1053.8 1502.4 L1056.5 1503.8 L1059.2 1505.1 L1062.0 1506.4 L1065.0 1507.7 L1068.0 1508.9 L1071.0 1510.0 L1074.0 1511.0 L1077.0 1512.0 L1080.0 1512.8 L1083.0 1513.7 L1086.0 1514.4 L1087.8 1514.8 M1103.0 1517.7 L1103.0 1517.7 L1106.0 1518.1 L1109.0 1518.5 L1112.0 1518.9 L1115.0 1519.2 L1118.0 1519.5 L1121.0 1519.8 L1124.0 1520.0 L1127.0 1520.3 L1130.0 1520.5 L1133.0 1520.7 L1136.0 1520.9 L1139.0 1521.0 L1142.0 1521.2 L1142.3 1521.2 M1157.7 1521.7 L1157.8 1521.7 L1160.8 1521.8 L1163.8 1521.8 L1166.8 1521.9 L1169.8 1522.0 L1172.8 1522.0 L1175.8 1522.1 L1178.8 1522.1 L1181.8 1522.1 L1184.8 1522.2 L1187.8 1522.2 L1190.8 1522.2 L1193.8 1522.2 L1196.8 1522.3 L1197.9 1522.3 M1213.5 1522.3 L1213.5 1522.3 L1216.5 1522.3 L1219.5 1522.3 L1222.5 1522.4 L1225.5 1522.4 L1228.5 1522.4 L1231.5 1522.4 L1234.5 1522.4 L1237.5 1522.4 L1240.5 1522.4 L1243.5 1522.4 L1246.5 1522.4 L1249.5 1522.4 L1252.3 1522.4 M1267.5 1522.4 L1267.5 1522.4 L1270.5 1522.4 L1273.5 1522.4 L1276.5 1522.4 L1279.5 1522.4 L1282.5 1522.4 L1285.5 1522.4 L1288.5 1522.4 L1291.5 1522.4 L1294.5 1522.4 L1297.5 1522.4 L1300.5 1522.4 L1303.5 1522.4 L1306.5 1522.4 M1321.7 1522.4 L1321.8 1522.4 L1324.8 1522.4 L1327.8 1522.4 L1330.8 1522.4 L1333.8 1522.4 L1336.8 1522.4 L1339.8 1522.4 L1342.8 1522.4 L1345.8 1522.4 L1348.8 1522.4 L1351.8 1522.4 L1354.8 1522.4 L1357.8 1522.4 L1360.7 1522.4 M1376.0 1522.4 L1376.0 1522.4 L1379.0 1522.4 L1382.0 1522.4 L1385.0 1522.4 L1388.0 1522.4 L1391.0 1522.4 L1394.0 1522.4 L1397.0 1522.4 L1400.0 1522.4 L1403.0 1522.4 L1406.0 1522.4 L1409.0 1522.4 L1412.0 1522.4 L1414.8 1522.4 M1430.0 1522.4 L1430.2 1522.4 L1433.2 1522.4 L1436.2 1522.4 L1439.2 1522.4 L1442.5 1522.4 L1445.5 1522.4 L1448.5 1522.4 L1451.5 1522.4 L1454.5 1522.4 L1457.5 1522.4 L1460.5 1522.4 L1463.5 1522.4 L1466.5 1522.4 L1468.8 1522.4 M1484.0 1522.4 L1484.5 1522.4 L1487.5 1522.4 L1490.5 1522.4 L1493.5 1522.4 L1496.5 1522.4 L1499.5 1522.4 L1502.5 1522.4 L1505.5 1522.4 L1508.5 1522.4 L1511.5 1522.4 L1514.5 1522.4 L1517.5 1522.4 L1520.5 1522.4 L1523.5 1522.4 L1524.3 1522.4 M1540.0 1522.4 L1540.5 1522.4 L1543.5 1522.4 L1546.5 1522.4 L1549.5 1522.4 L1552.5 1522.4 L1555.5 1522.4 L1558.5 1522.4 L1561.5 1522.4 L1564.5 1522.4 L1567.5 1522.4 L1570.5 1522.4 L1573.5 1522.4 L1576.5 1522.4 L1577.0 1522.4"/>
</g>
<g id="legend" shape-rendering="crispEdges">
<g fill="#0000c0"><rect x="925" y="921" width="53" height="4"/><rect x="924" y="922" width="55" height="2"/><rect x="996" y="921" width="54" height="4"/><rect x="995" y="922" width="56" height="2"/><rect x="1068" y="921" width="22" height="4"/><rect x="1067" y="922" width="24" height="2"/></g>
<g fill="#c0c000"><rect x="925" y="975" width="41" height="4"/><rect x="924" y="976" width="43" height="2"/><rect x="979" y="975" width="41" height="4"/><rect x="978" y="976" width="43" height="2"/><rect x="1034" y="975" width="40" height="4"/><rect x="1033" y="976" width="42" height="2"/></g>
<g fill="#008000"><rect x="925" y="1028" width="28" height="4"/><rect x="924" y="1029" width="30" height="2"/><rect x="962" y="1028" width="28" height="4"/><rect x="961" y="1029" width="30" height="2"/><rect x="999" y="1028" width="28" height="4"/><rect x="998" y="1029" width="30" height="2"/><rect x="1037" y="1028" width="27" height="4"/><rect x="1036" y="1029" width="29" height="2"/><rect x="1074" y="1028" width="16" height="4"/><rect x="1073" y="1029" width="18" height="2"/></g>
<g fill="#ff0000"><rect x="925" y="1082" width="41" height="4"/><rect x="924" y="1083" width="43" height="2"/><rect x="979" y="1082" width="41" height="4"/><rect x="978" y="1083" width="43" height="2"/><rect x="1034" y="1082" width="40" height="4"/><rect x="1033" y="1083" width="42" height="2"/></g>
</g>
<g id="arrow" fill="none" stroke="#000" stroke-width="2.8" stroke-linejoin="miter" stroke-miterlimit="10" shape-rendering="crispEdges">
<path d="M800.6 1105V972 M791.6 1021L800.6 972L809.6 1021"/>
</g>
<g id="labels">
<text id="t_al" transform="translate(0 132.7) scale(0.970 1)" font-size="65.5" xml:space="preserve"><tspan x="261.62" letter-spacing="-3.11">Al</tspan> <tspan x="331.76" letter-spacing="2.36">2p</tspan></text>
<text id="t_7475" transform="translate(0 162.8) scale(0.970 1)" font-size="41" xml:space="preserve" stroke="#000" stroke-width="0.70" stroke-linejoin="round"><tspan x="733.88" letter-spacing="-0.88">74.75</tspan> <tspan x="844.55" letter-spacing="-0.70">eV</tspan></text>
<text id="t_745" transform="translate(0 1157.2) scale(0.970 1)" font-size="41" xml:space="preserve" stroke="#000" stroke-width="0.70" stroke-linejoin="round"><tspan x="756.66" letter-spacing="-0.48">74.5</tspan> <tspan x="846.92" letter-spacing="-1.32">eV</tspan></text>
<text id="t_754" transform="translate(0 1412.0) scale(0.970 1)" font-size="41" xml:space="preserve" stroke="#000" stroke-width="0.70" stroke-linejoin="round"><tspan x="695.42" letter-spacing="-0.96">75.4</tspan> <tspan x="784.44" letter-spacing="-0.39">eV</tspan></text>
<text id="t_700" transform="translate(0 728.8) scale(0.970 1)" font-size="49.3" xml:space="preserve"><tspan x="1229.33" letter-spacing="0.43">700</tspan> <tspan x="1346.05" letter-spacing="0.00">C</tspan> <tspan x="1396.09" letter-spacing="-0.83">Annealing</tspan></text>
<text id="t_700o" transform="translate(0 708.9) scale(0.970 1)" font-size="38.6" xml:space="preserve"><tspan x="1325.29" letter-spacing="0.00">o</tspan></text>
<text id="t_600" transform="translate(0 1474.0) scale(0.970 1)" font-size="49.3" xml:space="preserve"><tspan x="1248.32" letter-spacing="0.47">600</tspan> <tspan x="1365.13" letter-spacing="0.00">C</tspan> <tspan x="1415.16" letter-spacing="-0.83">Annealing</tspan></text>
<text id="t_600o" transform="translate(0 1454.1) scale(0.970 1)" font-size="38.6" xml:space="preserve"><tspan x="1344.36" letter-spacing="0.00">o</tspan></text>
<text id="t_l1" transform="translate(0 937.9) scale(0.970 1)" font-size="41" xml:space="preserve" stroke="#000" stroke-width="0.70" stroke-linejoin="round"><tspan x="1163.92" letter-spacing="-1.84">XPS</tspan> <tspan x="1253.34" letter-spacing="-1.29">Data</tspan></text>
<text id="t_l2" transform="translate(0 992.1) scale(0.970 1)" font-size="41" xml:space="preserve" stroke="#000" stroke-width="0.70" stroke-linejoin="round"><tspan x="1164.37" letter-spacing="-1.00">La-O-Al</tspan> <tspan x="1313.03" letter-spacing="-0.87">Peak</tspan></text>
<text id="t_l3" transform="translate(0 1044.7) scale(0.970 1)" font-size="41" xml:space="preserve" stroke="#000" stroke-width="0.70" stroke-linejoin="round"><tspan x="1164.77" letter-spacing="-0.05">Al-O</tspan> <tspan x="1256.12" letter-spacing="-0.43">Peak</tspan></text>
<text id="t_l4" transform="translate(0 1098.5) scale(0.970 1)" font-size="41" xml:space="preserve" stroke="#000" stroke-width="0.70" stroke-linejoin="round"><tspan x="1164.72" letter-spacing="-1.08">Cumulative</tspan> <tspan x="1370.55" letter-spacing="-0.22">Fit</tspan> <tspan x="1428.39" letter-spacing="-0.43">Peak</tspan></text>
<text id="t_x0" transform="translate(0 1643.6) scale(0.985 1)" font-size="49.5" xml:space="preserve"><tspan x="122.01" letter-spacing="-0.01">80</tspan></text>
<text id="t_x1" transform="translate(0 1643.6) scale(0.985 1)" font-size="49.5" xml:space="preserve"><tspan x="363.59" letter-spacing="0.59">78</tspan></text>
<text id="t_x2" transform="translate(0 1643.6) scale(0.985 1)" font-size="49.5" xml:space="preserve"><tspan x="605.55" letter-spacing="0.62">76</tspan></text>
<text id="t_x3" transform="translate(0 1643.6) scale(0.985 1)" font-size="49.5" xml:space="preserve"><tspan x="847.51" letter-spacing="-0.11">74</tspan></text>
<text id="t_x4" transform="translate(0 1643.6) scale(0.985 1)" font-size="49.5" xml:space="preserve"><tspan x="1089.48" letter-spacing="0.93">72</tspan></text>
<text id="t_x5" transform="translate(0 1643.6) scale(0.985 1)" font-size="49.5" xml:space="preserve"><tspan x="1331.44" letter-spacing="0.38">70</tspan></text>
<text id="t_x6" transform="translate(0 1643.6) scale(0.985 1)" font-size="49.5" xml:space="preserve"><tspan x="1573.43" letter-spacing="0.57">68</tspan></text>
<text id="t_xt" transform="translate(0 1745.7) scale(0.970 1)" font-size="65.5" xml:space="preserve"><tspan x="603.49" letter-spacing="-1.07">Binding</tspan> <tspan x="831.22" letter-spacing="-1.13">Energy</tspan> <tspan x="1053.46" letter-spacing="-0.98">(eV)</tspan></text>
<text id="t_yt" transform="translate(63.3 0) rotate(-90) scale(0.970 1)" font-size="65.5" xml:space="preserve"><tspan x="-1109.24" letter-spacing="-0.22">Intensity</tspan> <tspan x="-846.95" letter-spacing="-0.33">(arb.</tspan> <tspan x="-695.08" letter-spacing="-0.39">units)</tspan></text>
</g>
</svg>
</body></html>
